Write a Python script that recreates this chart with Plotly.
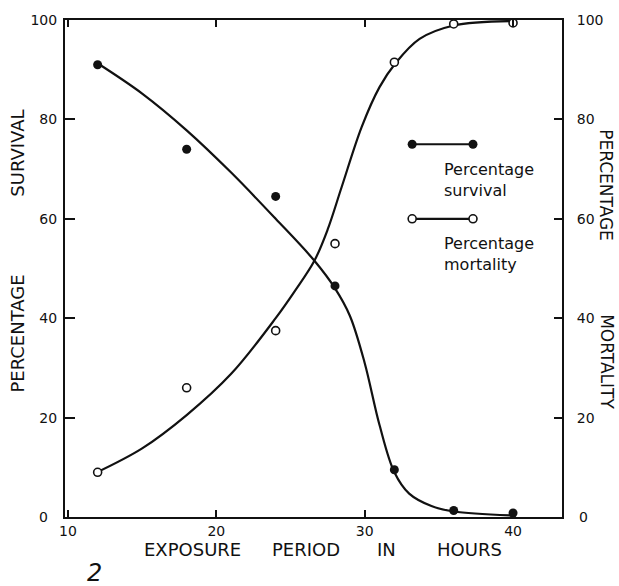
import plotly.graph_objects as go

# Observed points: exposure period (hours) vs. percentage
hours = [12, 18, 24, 28, 32, 36, 40]
survival_pct = [91, 74, 64.5, 46.5, 9.5, 1.3, 0.8]
mortality_pct = [9, 26, 37.5, 55, 91.5, 99.2, 99.4]

# Hand-fitted smooth curves through the observations
surv_curve_x = [11.94, 15.0, 18.0, 21.0, 24.0, 26.6, 28.0, 29.0, 30.0, 31.0, 32.0, 33.0, 34.5, 36.0, 40.0]
surv_curve_y = [91.4, 85.2, 77.8, 69.3, 60.0, 51.6, 46.0, 40.5, 31.0, 18.5, 9.0, 4.7, 2.2, 1.1, 0.3]
mort_curve_x = [11.82, 15.0, 18.0, 21.0, 24.0, 25.3, 26.6, 27.5, 28.46, 29.8, 31.0, 32.05, 33.7, 36.0, 40.0]
mort_curve_y = [8.8, 13.8, 20.5, 28.8, 40.0, 45.5, 51.5, 57.8, 66.5, 78.5, 86.5, 91.2, 96.2, 98.9, 99.8]

x_ticks = [10, 20, 30, 40]
y_ticks = [20, 40, 60, 80, 100]

# Key segments drawn inside the plot
key_x = [33.2, 37.3]
key_survival_y = 75
key_mortality_y = 60

INK = "#111111"
TICK_FONT = dict(family="DejaVu Sans", size=14, color=INK)
TITLE_FONT = dict(family="DejaVu Sans", size=18, color=INK)
RIGHT_TITLE_FONT = dict(family="DejaVu Sans", size=17, color=INK)
KEY_FONT = dict(family="DejaVu Sans", size=16, color=INK)

fig = go.Figure()

fig.add_trace(go.Scatter(
    x=surv_curve_x, y=surv_curve_y, mode="lines",
    line=dict(color=INK, width=2.2, shape="spline", smoothing=1.0),
    hoverinfo="skip", showlegend=False, cliponaxis=False))
fig.add_trace(go.Scatter(
    x=mort_curve_x, y=mort_curve_y, mode="lines", yaxis="y2",
    line=dict(color=INK, width=2.2, shape="spline", smoothing=1.0),
    hoverinfo="skip", showlegend=False, cliponaxis=False))

fig.add_trace(go.Scatter(
    x=hours, y=survival_pct, mode="markers", name="Percentage survival",
    marker=dict(symbol="circle", size=9, color=INK, line=dict(width=0)),
    showlegend=False, cliponaxis=False))
fig.add_trace(go.Scatter(
    x=hours, y=mortality_pct, mode="markers", name="Percentage mortality", yaxis="y2",
    marker=dict(symbol="circle", size=8, color="white", line=dict(width=1.6, color=INK)),
    showlegend=False, cliponaxis=False))

# Key line segments
fig.add_trace(go.Scatter(
    x=key_x, y=[key_survival_y] * 2, mode="lines+markers",
    line=dict(color=INK, width=2.2),
    marker=dict(symbol="circle", size=9, color=INK),
    hoverinfo="skip", showlegend=False))
fig.add_trace(go.Scatter(
    x=key_x, y=[key_mortality_y] * 2, mode="lines+markers",
    line=dict(color=INK, width=2.2),
    marker=dict(symbol="circle", size=8, color="white", line=dict(width=1.6, color=INK)),
    hoverinfo="skip", showlegend=False))

annotations = []

def add_text(text, x, y, font, angle=0, xanchor="center", yanchor="middle", align="center", xref="paper", yref="paper"):
    annotations.append(dict(text=text, x=x, y=y, xref=xref, yref=yref, showarrow=False,
                            font=font, textangle=angle, xanchor=xanchor, yanchor=yanchor,
                            align=align))

# Left axis titles
add_text("PERCENTAGE", -0.0946, 0.369, TITLE_FONT, angle=-90)
add_text("SURVIVAL", -0.0946, 0.733, TITLE_FONT, angle=-90)
# Right axis titles
add_text("PERCENTAGE", 1.089, 0.667, RIGHT_TITLE_FONT, angle=90)
add_text("MORTALITY", 1.089, 0.313, RIGHT_TITLE_FONT, angle=90)
# Bottom axis title, spaced out word by word
for word, px in [("EXPOSURE", 0.2565), ("PERIOD", 0.485), ("IN", 0.647), ("HOURS", 0.813)]:
    add_text(word, px, -0.066, TITLE_FONT)
# Zero labels sit further out than the other tick labels
add_text("0", -0.044, 0, TICK_FONT, yref="y")
add_text("0", 1.043, 0, TICK_FONT, yref="y")
# Key labels
add_text("Percentage<br>survival", 0.759, 0.679, KEY_FONT, xanchor="left", align="left")
add_text("Percentage<br>mortality", 0.759, 0.529, KEY_FONT, xanchor="left", align="left")
# Figure number
add_text("<i>2</i>", 0.06, -0.112, dict(family="DejaVu Sans", size=24, color=INK))

axis_common = dict(
    showgrid=False, zeroline=False, showline=True, linecolor=INK, linewidth=2,
    ticks="inside", tickcolor=INK, tickwidth=2, tickfont=TICK_FONT,
)

fig.update_layout(
    width=619, height=586,
    margin=dict(l=65, r=57, t=16, b=69),
    paper_bgcolor="white", plot_bgcolor="white",
    showlegend=False,
    xaxis=dict(axis_common, range=[9.8, 43.3], tickvals=x_ticks, ticklen=7,
               mirror="ticks", ticklabelstandoff=0),
    yaxis=dict(axis_common, range=[0, 100], tickvals=y_ticks, ticklen=10,
               ticklabelstandoff=3),
    yaxis2=dict(axis_common, range=[0, 100], tickvals=y_ticks, ticklen=8,
                overlaying="y", side="right", ticklabelstandoff=10),
    annotations=annotations,
)

fig.write_html("out.html")
